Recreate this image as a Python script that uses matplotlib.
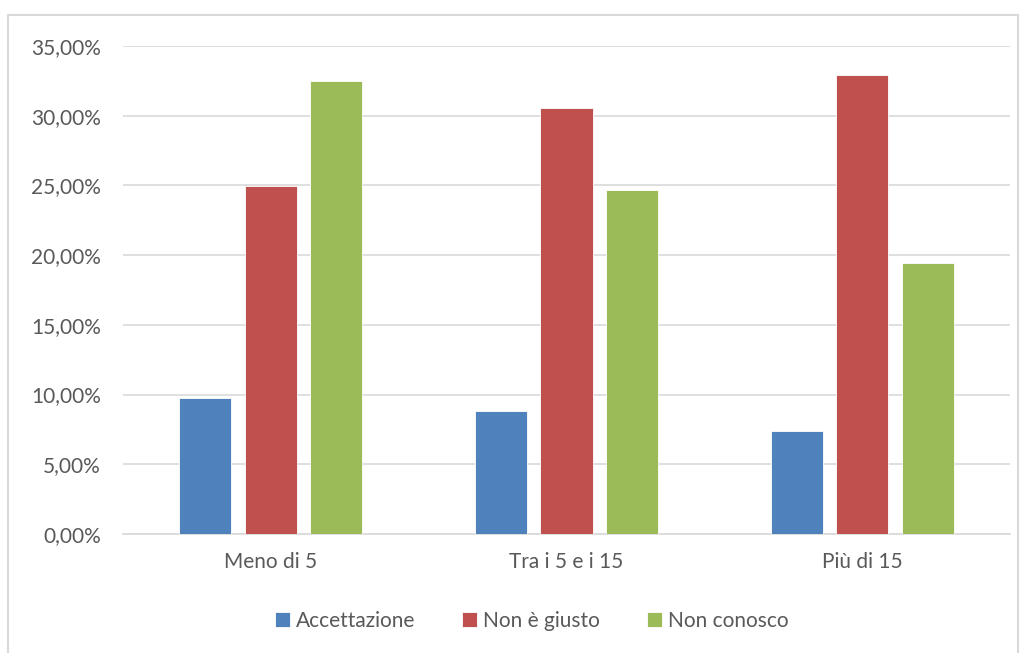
import numpy as np
import matplotlib.pyplot as plt
from matplotlib.patches import Rectangle
from matplotlib.ticker import FuncFormatter

# categorie e serie
categorie = ['Meno di 5', 'Tra i 5 e i 15', 'Più di 15']
serie = ['Accettazione', 'Non è giusto', 'Non conosco']
accettazione = [9.78, 8.82, 7.41]
non_giusto = [24.94, 30.54, 32.90]
non_conosco = [32.52, 24.66, 19.44]
colori = ['#4F81BD', '#C0504D', '#9BBB59']

plt.rcParams['font.family'] = ['Lato', 'DejaVu Sans']
grigio = '#595959'

fig = plt.figure(figsize=(10.25, 6.53), dpi=100)
# cornice del grafico
fig.patches.append(Rectangle((8 / 1025, -0.05), 1010 / 1025, 1 - 15 / 653 + 0.05,
                             transform=fig.transFigure, fill=False,
                             edgecolor='#D9D9D9', linewidth=1.5))
ax = fig.add_axes([123 / 1025, 1 - 534 / 653, 887 / 1025, 488 / 653])

x = np.arange(len(categorie))
w = 0.176
passo = 0.2215
for i, valori in enumerate([accettazione, non_giusto, non_conosco]):
    ax.bar(x + (i - 1) * passo, valori, w, color=colori[i], label=serie[i],
           edgecolor='white', linewidth=0.6, zorder=3)

ax.set_xlim(-0.5, 2.5)
ax.set_ylim(0, 35)
ax.set_yticks(np.arange(0, 36, 5))
ax.yaxis.set_major_formatter(FuncFormatter(lambda v, p: f'{v:.2f}%'.replace('.', ',')))
ax.set_xticks(x)
ax.set_xticklabels(categorie)
ax.grid(axis='y', color='#D9D9D9', linewidth=1.2, zorder=0)
for s in ['top', 'right', 'left']:
    ax.spines[s].set_visible(False)
ax.spines['bottom'].set_color('#D9D9D9')
ax.spines['bottom'].set_linewidth(1.2)
ax.tick_params(axis='both', length=0, labelsize=15, colors=grigio)
ax.tick_params(axis='y', pad=16)
ax.tick_params(axis='x', pad=13)

ax.legend(loc='center', bbox_to_anchor=(0.461, -0.178), ncol=3, frameon=False,
          fontsize=15, labelcolor=grigio, handlelength=0.7, handleheight=0.7,
          handletextpad=0.3, columnspacing=2.25)

fig.savefig('out.png', dpi=100)
